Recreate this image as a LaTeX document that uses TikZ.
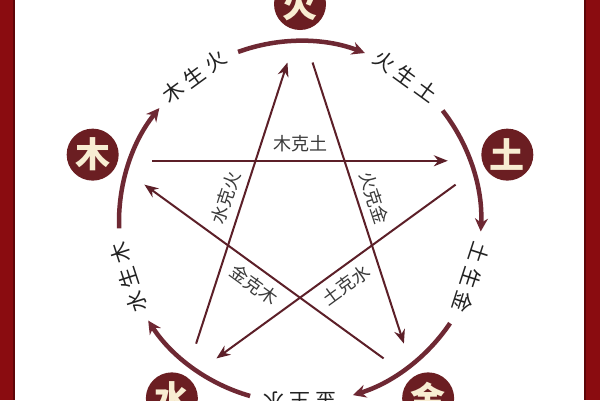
\documentclass[tikz,border=0pt]{standalone}
\usepackage{fontspec}
\newfontfamily\cjk{Noto Sans CJK SC}
\usetikzlibrary{arrows.meta}
\definecolor{framec}{HTML}{8A0C10}
\definecolor{frameedge}{HTML}{5E0609}
\definecolor{wx}{HTML}{6B1E22}
\definecolor{ringc}{HTML}{6E2833}
\definecolor{starc}{HTML}{5C1F28}
\definecolor{cream}{HTML}{F8EDD2}
\definecolor{lbl}{HTML}{222222}
\definecolor{slbl}{HTML}{3A3A3A}
\begin{document}
\begin{tikzpicture}[x=1pt,y=1pt,
 elem/.style={circle,fill=wx,minimum size=52pt,inner sep=0pt,text=cream,font=\cjk\bfseries\fontsize{35}{35}\selectfont},
 ringarc/.style={draw=ringc,line width=4.5pt,-{Stealth[length=13pt,width=13pt]}},
 starline/.style={draw=starc,line width=2pt,-{Stealth[length=14pt,width=11pt]}},
 ringlbl/.style={text=lbl,font=\cjk\fontsize{21}{21}\selectfont,inner sep=0pt},
 starlbl/.style={text=slbl,font=\cjk\fontsize{18}{18}\selectfont,inner sep=0pt}]
\clip (0,0) rectangle (600,-400);
\fill[white] (0,0) rectangle (600,-400);
\fill[framec] (0,0) rectangle (14,-400);
\fill[framec] (585,0) rectangle (600,-400);
\draw[frameedge,line width=1.5pt] (14,0) -- (14,-400);
\draw[frameedge,line width=1.5pt] (585,0) -- (585,-400);
\begin{scope}[shift={(300,-222)}]
% elements
\node[elem] (huo) at (90:218) {火};
\node[elem] (tu) at (18:218) {土};
\node[elem] (jin) at (-54:218) {金};
\node[elem] (shui) at (-126:218) {水};
\node[elem] (mu) at (162:218) {木};
% ring arcs (generating cycle)
\coordinate (a1) at (110:181);
\coordinate (a2) at (38:181);
\coordinate (a3) at (-34:181);
\coordinate (a4) at (-106:181);
\coordinate (a5) at (182:181);
\draw[ringarc] (a1) arc[start angle=110,end angle=69,radius=181pt];
\draw[ringarc] (a2) arc[start angle=38,end angle=-3,radius=181pt];
\draw[ringarc] (a3) arc[start angle=-34,end angle=-73,radius=181pt];
\draw[ringarc] (a4) arc[start angle=-106,end angle=-147,radius=181pt];
\draw[ringarc] (a5) arc[start angle=182,end angle=141,radius=181pt];
% ring labels
\node[ringlbl,rotate=36] (l1) at (126:180) {木\hspace{5pt}生\hspace{5pt}火};
\node[ringlbl,rotate=-36] (l2) at (54:180) {火\hspace{5pt}生\hspace{5pt}土};
\node[ringlbl,rotate=-108] (l3) at (-18:180) {土\hspace{5pt}生\hspace{5pt}金};
\node[ringlbl,rotate=180] (l4) at (-90:180) {金\hspace{5pt}生\hspace{5pt}水};
\node[ringlbl,rotate=108] (l5) at (198:180) {水\hspace{5pt}生\hspace{5pt}木};
% star (controlling cycle)
\coordinate (s1) at (157.5:160); \coordinate (e1) at (22.5:160);
\coordinate (s2) at (85.5:160);  \coordinate (e2) at (-49.5:160);
\coordinate (s3) at (13.5:160);  \coordinate (e3) at (-121.5:160);
\coordinate (s4) at (-58.5:160); \coordinate (e4) at (166.5:160);
\coordinate (s5) at (-130.5:160);\coordinate (e5) at (94.5:160);
\draw[starline] (s1) -- (e1);
\draw[starline] (s2) -- (e2);
\draw[starline] (s3) -- (e3);
\draw[starline] (s4) -- (e4);
\draw[starline] (s5) -- (e5);
\node[starlbl] (k1) at (90:78) {木克土};
\node[starlbl,rotate=-72] (k2) at (18:78) {火克金};
\node[starlbl,rotate=36] (k3) at (-54:78) {土克水};
\node[starlbl,rotate=-36] (k4) at (-126:78) {金克木};
\node[starlbl,rotate=72] (k5) at (162:78) {水克火};
\end{scope}
\end{tikzpicture}
\end{document}
